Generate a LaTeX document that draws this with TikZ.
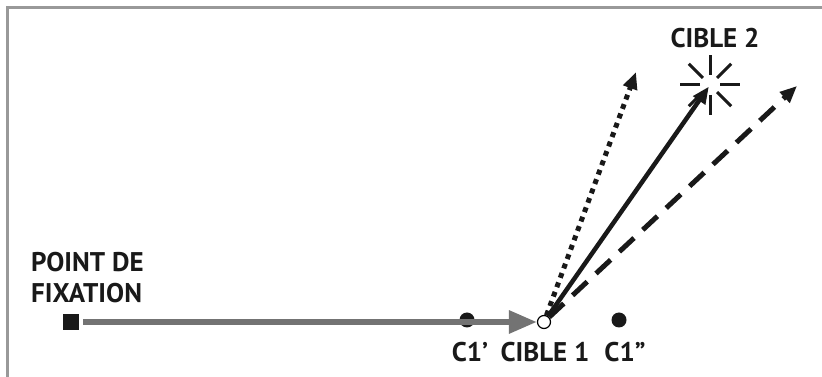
\documentclass[tikz,border=0pt]{standalone}
\usepackage{fontspec}
\setmainfont{PT Sans}
\usepackage{tikz}
\usetikzlibrary{arrows.meta,positioning,calc}

\begin{document}
\begin{tikzpicture}[
        x=1pt, y=1pt,
        frame/.style={draw=black!40, line width=3pt},
        caption/.style={
            font=\fontsize{27}{31}\selectfont\bfseries,
            text=black!90,
            inner sep=0pt,
            align=left
        },
        dot/.style={circle, fill=black!90, minimum size=15pt, inner sep=0pt},
        fixation/.style={rectangle, fill=black!90, minimum size=16pt, inner sep=0pt},
        target/.style={circle, draw=black, fill=white, line width=1.2pt, minimum size=13pt, inner sep=0pt},
        gaze/.style={
            -{Triangle[length=28pt,width=22pt]},
            line width=6pt,
            draw=black!55
        },
        saccade/.style={
            -{Triangle[length=17pt,width=14pt]},
            line width=4.5pt,
            draw=black!90
        },
        ray/.style={line width=3pt, draw=black!90}
    ]
        \useasboundingbox (0,0) rectangle (822,377);
        \draw[frame] (7,0) -- (7,369) -- (822,369);

        % points on the line
        \node[fixation] (fix) at (71,55) {};
        \node[dot] (c1p) at (467,57) {};
        \node[target] (cible1) at (544,55) {};
        \node[dot] (c1s) at (619,57) {};

        \node[caption, anchor=north west] (fixlbl) at (31,125) {POINT DE\\FIXATION};
        \node[caption] (c1plbl) at (470,25) {C1’};
        \node[caption] (cible1lbl) at (545,25) {CIBLE 1};
        \node[caption] (c1slbl) at (625,25) {C1”};

        % second target
        \coordinate (cible2) at (710,292);
        \foreach \a in {0,45,...,315}
            \draw[ray] ($(cible2)+(\a:10)$) -- ($(cible2)+(\a:30)$);
        \node[caption] (cible2lbl) at (715,339) {CIBLE 2};

        \coordinate (dotend) at (636,305);
        \coordinate (dashend) at (797,291);

        \draw[gaze, shorten <=4pt] (fix) -- (cible1);
        \draw[saccade, dash pattern=on 5pt off 5pt, line width=5pt] (cible1) -- (dotend);
        \draw[saccade, dash pattern=on 20pt off 12pt, line width=5pt] (cible1) -- (dashend);
        \draw[saccade, shorten >=2pt] (cible1) -- (cible2);
    \end{tikzpicture}
\end{document}
